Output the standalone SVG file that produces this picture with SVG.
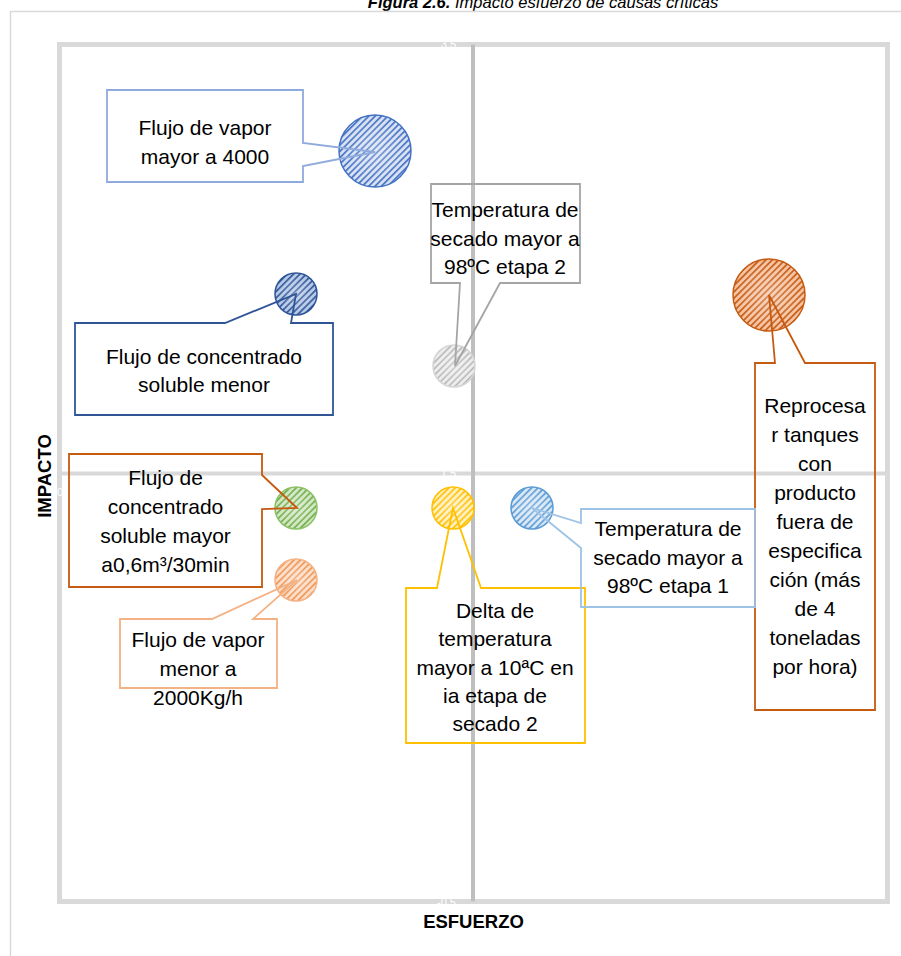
<svg xmlns="http://www.w3.org/2000/svg" width="901" height="956" viewBox="0 0 901 956">
  <style>
    .lbl { font-family: "Liberation Sans", Arial, sans-serif; font-size: 21px; fill: #000; text-anchor: middle; }
    .axis-title { font-family: "Liberation Sans", Arial, sans-serif; font-size: 18.5px; font-weight: bold; fill: #000; text-anchor: middle; }
    .tick { font-family: "Liberation Sans", Arial, sans-serif; font-size: 11px; fill: #fff; }
    .callout { fill: none; stroke-width: 1.8; stroke-linejoin: miter; }
    .bubble { stroke-width: 1.5; }
  </style>
  <defs>
    <!-- diagonal hatch fills, one per series colour -->
    <pattern id="hatch-blue" width="4.5" height="4.5" patternUnits="userSpaceOnUse" patternTransform="rotate(45)">
      <rect width="4.5" height="4.5" fill="#d6e0f3"/><rect width="1.7" height="4.5" fill="#4472c4"/>
    </pattern>
    <pattern id="hatch-navy" width="4.5" height="4.5" patternUnits="userSpaceOnUse" patternTransform="rotate(45)">
      <rect width="4.5" height="4.5" fill="#b4c7e7"/><rect width="1.7" height="4.5" fill="#2f5597"/>
    </pattern>
    <pattern id="hatch-gray" width="4.5" height="4.5" patternUnits="userSpaceOnUse" patternTransform="rotate(45)">
      <rect width="4.5" height="4.5" fill="#ececec"/><rect width="1.7" height="4.5" fill="#b8b8b8"/>
    </pattern>
    <pattern id="hatch-brown" width="4.5" height="4.5" patternUnits="userSpaceOnUse" patternTransform="rotate(45)">
      <rect width="4.5" height="4.5" fill="#f6c2a0"/><rect width="1.7" height="4.5" fill="#c55a11"/>
    </pattern>
    <pattern id="hatch-green" width="4.5" height="4.5" patternUnits="userSpaceOnUse" patternTransform="rotate(45)">
      <rect width="4.5" height="4.5" fill="#d0e6c2"/><rect width="1.7" height="4.5" fill="#70ad47"/>
    </pattern>
    <pattern id="hatch-peach" width="4.5" height="4.5" patternUnits="userSpaceOnUse" patternTransform="rotate(45)">
      <rect width="4.5" height="4.5" fill="#fbdcc6"/><rect width="1.7" height="4.5" fill="#ef9350"/>
    </pattern>
    <pattern id="hatch-yellow" width="4.5" height="4.5" patternUnits="userSpaceOnUse" patternTransform="rotate(45)">
      <rect width="4.5" height="4.5" fill="#ffeeb8"/><rect width="1.7" height="4.5" fill="#ffc000"/>
    </pattern>
    <pattern id="hatch-sky" width="4.5" height="4.5" patternUnits="userSpaceOnUse" patternTransform="rotate(45)">
      <rect width="4.5" height="4.5" fill="#d6e6f5"/><rect width="1.7" height="4.5" fill="#5b9bd5"/>
    </pattern>
    <radialGradient id="glow" cx="0.5" cy="0.5" r="0.5">
      <stop offset="0" stop-color="#fff" stop-opacity="0.3"/>
      <stop offset="1" stop-color="#fff" stop-opacity="0"/>
    </radialGradient>
  </defs>

  <rect width="901" height="956" fill="#fff"/>

  <!-- caption -->
  <text x="543" y="8" font-family="'Liberation Sans', Arial, sans-serif" font-size="16.5" font-style="italic" text-anchor="middle"><tspan font-weight="bold">Figura 2.6.</tspan> Impacto esfuerzo de causas críticas</text>

  <!-- chart area frame -->
  <rect x="10.5" y="11.5" width="900" height="960" fill="none" stroke="#d9d9d9" stroke-width="1.5"/>

  <g id="plot-frame">
    <rect x="59.5" y="44.5" width="828" height="857" fill="none" stroke="#d9d9d9" stroke-width="5"/>
    <line x1="59.5" y1="473.5" x2="887.5" y2="473.5" stroke="#d9d9d9" stroke-width="4"/>
    <line x1="473" y1="44.5" x2="473" y2="901.5" stroke="#bfbfbf" stroke-width="4"/>
  </g>

  <!-- tick labels (white, only show over grey strokes) -->
  <g id="ticks" class="tick">
    <text x="456" y="48" text-anchor="end">3.5</text>
    <text x="456" y="370" text-anchor="end">2</text>
    <text x="456" y="477" text-anchor="end">1.5</text>
    <text x="456" y="906" text-anchor="end">-0.5</text>
    <text x="60" y="496" text-anchor="middle">0</text>
    <text x="297" y="496" text-anchor="middle">1</text>
    <text x="533" y="496" text-anchor="middle">2</text>
  </g>

  <!-- axis titles -->
  <text class="axis-title" x="473.5" y="928">ESFUERZO</text>
  <text class="axis-title" transform="translate(51 476) rotate(-90)">IMPACTO</text>

  <!-- bubbles -->
  <g id="bubble-vapor-alto">
    <circle class="bubble" cx="375" cy="151" r="36" fill="url(#hatch-blue)" stroke="#4472c4"/>
    <circle cx="375" cy="151" r="36" fill="url(#glow)"/>
  </g>
  <g id="bubble-concentrado-menor">
    <circle class="bubble" cx="296" cy="294" r="21" fill="url(#hatch-navy)" stroke="#2f5597"/>
    <circle cx="296" cy="294" r="21" fill="url(#glow)"/>
  </g>
  <g id="bubble-temp-etapa2">
    <circle class="bubble" cx="454" cy="366" r="21" fill="url(#hatch-gray)" stroke="#d6d6d6"/>
    <circle cx="454" cy="366" r="21" fill="url(#glow)"/>
  </g>
  <g id="bubble-reprocesar">
    <circle class="bubble" cx="769" cy="295" r="36" fill="url(#hatch-brown)" stroke="#c55a11"/>
    <circle cx="769" cy="295" r="36" fill="url(#glow)"/>
  </g>
  <g id="bubble-concentrado-mayor">
    <circle class="bubble" cx="296" cy="508" r="21" fill="url(#hatch-green)" stroke="#8cc168"/>
    <circle cx="296" cy="508" r="21" fill="url(#glow)"/>
  </g>
  <g id="bubble-vapor-bajo">
    <circle class="bubble" cx="296" cy="580" r="21" fill="url(#hatch-peach)" stroke="#f4b183"/>
    <circle cx="296" cy="580" r="21" fill="url(#glow)"/>
  </g>
  <g id="bubble-delta">
    <circle class="bubble" cx="453" cy="508" r="21" fill="url(#hatch-yellow)" stroke="#ffc000"/>
    <circle cx="453" cy="508" r="21" fill="url(#glow)"/>
  </g>
  <g id="bubble-temp-etapa1">
    <circle class="bubble" cx="532" cy="508" r="21" fill="url(#hatch-sky)" stroke="#5b9bd5"/>
    <circle cx="532" cy="508" r="21" fill="url(#glow)"/>
  </g>

  <!-- callout boxes with pointers -->
  <g id="connectors">
    <path class="callout" stroke="#8faadc" d="M107,90 L303,90 L303,143 L375,152 L303,166 L303,182 L107,182 Z"/>
    <path class="callout" stroke="#2f5597" d="M75,323 L225,323 L296,294 L291,323 L333,323 L333,415 L75,415 Z"/>
    <path class="callout" stroke="#a5a5a5" d="M431,184 L580,184 L580,283 L500,283 L455,366 L460,283 L431,283 Z"/>
    <path class="callout" stroke="#c55a11" d="M755,363 L775,363 L769,295 L805,363 L875,363 L875,710 L755,710 Z"/>
    <path class="callout" stroke="#c55a11" d="M69,454 L262,454 L262,475 L297,508 L262,509 L262,587 L69,587 Z"/>
    <path class="callout" stroke="#f4b183" d="M120,619 L212,619 L297,580 L253,619 L277,619 L277,688 L120,688 Z"/>
    <path class="callout" stroke="#ffc000" d="M406,588 L437,588 L453,508 L481,588 L585,588 L585,743 L406,743 Z"/>
    <path class="callout" stroke="#9dc3e6" d="M581,509 L755,509 L755,607 L581,607 L581,548 L532,508 L581,523 Z"/>
  </g>

  <g id="label-vapor-alto" class="lbl">
    <text x="205" y="135">Flujo de vapor</text>
    <text x="205" y="164">mayor a 4000</text>
  </g>
  <g id="label-concentrado-menor" class="lbl">
    <text x="204" y="364">Flujo de concentrado</text>
    <text x="204" y="392">soluble menor</text>
  </g>
  <g id="label-temp-etapa2" class="lbl">
    <text x="505" y="217">Temperatura de</text>
    <text x="505" y="246">secado mayor a</text>
    <text x="505" y="274">98ºC etapa 2</text>
  </g>
  <g id="label-reprocesar" class="lbl">
    <text x="815" y="413">Reprocesa</text>
    <text x="815" y="442">r tanques</text>
    <text x="815" y="471">con</text>
    <text x="815" y="500">producto</text>
    <text x="815" y="529">fuera de</text>
    <text x="815" y="558">especifica</text>
    <text x="815" y="587">ción (más</text>
    <text x="815" y="616">de 4</text>
    <text x="815" y="645">toneladas</text>
    <text x="815" y="674">por hora)</text>
  </g>
  <g id="label-concentrado-mayor" class="lbl">
    <text x="165.5" y="485">Flujo de</text>
    <text x="165.5" y="514">concentrado</text>
    <text x="165.5" y="543">soluble mayor</text>
    <text x="165.5" y="572">a0,6m³/30min</text>
  </g>
  <g id="label-vapor-bajo" class="lbl">
    <text x="198" y="647">Flujo de vapor</text>
    <text x="198" y="676">menor a</text>
    <text x="198" y="705">2000Kg/h</text>
  </g>
  <g id="label-delta" class="lbl">
    <text x="495" y="618">Delta de</text>
    <text x="495" y="646">temperatura</text>
    <text x="495" y="675">mayor a 10ªC en</text>
    <text x="495" y="703">ia etapa de</text>
    <text x="495" y="731">secado 2</text>
  </g>
  <g id="label-temp-etapa1" class="lbl">
    <text x="668" y="536">Temperatura de</text>
    <text x="668" y="565">secado mayor a</text>
    <text x="668" y="593">98ºC etapa 1</text>
  </g>
</svg>
